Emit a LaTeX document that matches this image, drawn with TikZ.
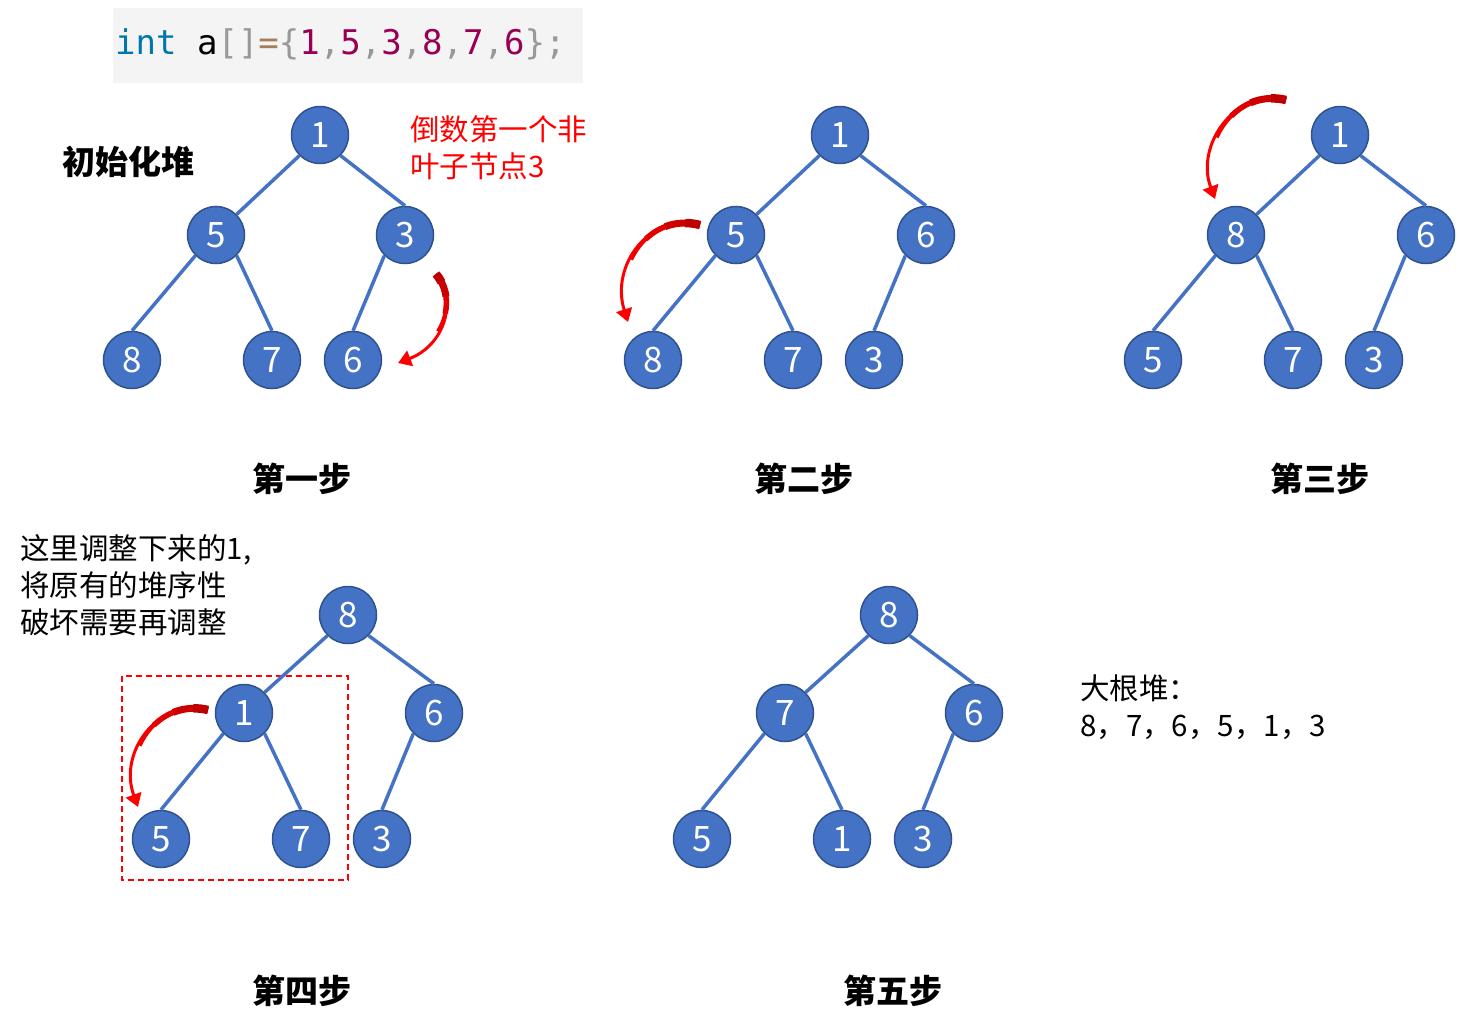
\documentclass[tikz,border=0pt]{standalone}
\usepackage{fontspec}
\setmainfont{Noto Sans CJK SC}
\newfontfamily\codefont{DejaVu Sans Mono}
\usepackage{tikz}
\usetikzlibrary{arrows.meta,positioning,calc}
\usepackage{xcolor}

\definecolor{nodeblue}{HTML}{4472C4}
\definecolor{nodeline}{HTML}{2F528F}
\definecolor{kwblue}{HTML}{0077AA}
\definecolor{numred}{HTML}{990055}
\definecolor{punct}{HTML}{999999}
\definecolor{opbrown}{HTML}{A67F59}
\definecolor{codebg}{HTML}{F4F4F4}

% red swap arrow: start, control, control, end (coordinate names)
\newcommand{\redflip}[4]{%
  \draw[flip] (#1) .. controls (#2) and (#3) .. (#4);
  \foreach \t/\w/\c in {0.6/4pt/red!95!black, 0.42/5.5pt/red!88!black, 0.25/7pt/red!80!black, 0.1/8.5pt/red!75!black}{
    \coordinate (p01) at ($(#1)!\t!(#2)$);
    \coordinate (p12) at ($(#2)!\t!(#3)$);
    \coordinate (p23) at ($(#3)!\t!(#4)$);
    \coordinate (p012) at ($(p01)!\t!(p12)$);
    \coordinate (p123) at ($(p12)!\t!(p23)$);
    \coordinate (pm) at ($(p012)!\t!(p123)$);
    \draw[line width=\w, draw=\c] (#1) .. controls (p01) and (p012) .. (pm);
  }
}

\begin{document}
\begin{tikzpicture}[
  x=1pt, y=-1pt,
  vert/.style={circle, fill=nodeblue, draw=nodeline, line width=1.5pt, minimum size=57pt, inner sep=0pt, text=white, font=\fontsize{35}{35}\selectfont},
  heapedge/.style={draw=nodeblue, line width=3.5pt},
  steplabel/.style={font=\fontsize{33}{36}\selectfont\bfseries},
  note/.style={align=left, anchor=north west, inner sep=0pt, font=\fontsize{29.5}{37}\selectfont},
  flip/.style={draw=red, line width=3pt, -{Triangle[width=16pt,length=13pt]}}
]
  \useasboundingbox (0,0) rectangle (1472,1022);

  % code line
  \fill[codebg] (113,8) rectangle (583,83);
  \node[anchor=base west, inner sep=0pt, font=\codefont\fontsize{34}{34}\selectfont] (code) at (115,55)
    {\textcolor{kwblue}{int} a\textcolor{punct}{[]}\textcolor{opbrown}{=}\textcolor{punct}{\{}\textcolor{numred}{1}\textcolor{punct}{,}\textcolor{numred}{5}\textcolor{punct}{,}\textcolor{numred}{3}\textcolor{punct}{,}\textcolor{numred}{8}\textcolor{punct}{,}\textcolor{numred}{7}\textcolor{punct}{,}\textcolor{numred}{6}\textcolor{punct}{\};}};

  % first step
  \node[vert] (a1) at (320,135) {1};
  \node[vert] (a5) at (216,235) {5};
  \node[vert] (a3) at (405,235) {3};
  \node[vert] (a8) at (132,360) {8};
  \node[vert] (a7) at (272,360) {7};
  \node[vert] (a6) at (353,360) {6};
  \draw[heapedge] (a1.south west) -- (a5.north east);
  \draw[heapedge] (a1.south east) -- (a3.north);
  \draw[heapedge] (a5.south west) -- (a8.north);
  \draw[heapedge] (a5.south east) -- (a7.north);
  \draw[heapedge] (a3.south west) -- (a6.north);
  \node[steplabel] (init) at (128,162) {初始化堆};
  \node[note, text=red] (lastleaf) at (410,115) {倒数第一个非\\叶子节点3};
  \coordinate (aflipS) at (436,274);
  \coordinate (aflipA) at (458,300);
  \coordinate (aflipB) at (445,345);
  \coordinate (aflipE) at (398,363);
  \redflip{aflipS}{aflipA}{aflipB}{aflipE}
  \node[steplabel] (stepone) at (302,479) {第一步};

  % second step
  \node[vert] (b1) at (840,135) {1};
  \node[vert] (b5) at (736,235) {5};
  \node[vert] (b6) at (926,235) {6};
  \node[vert] (b8) at (653,360) {8};
  \node[vert] (b7) at (793,360) {7};
  \node[vert] (b3) at (874,360) {3};
  \draw[heapedge] (b1.south west) -- (b5.north east);
  \draw[heapedge] (b1.south east) -- (b6.north);
  \draw[heapedge] (b5.south west) -- (b8.north);
  \draw[heapedge] (b5.south east) -- (b7.north);
  \draw[heapedge] (b6.south west) -- (b3.north);
  \coordinate (bflipS) at (700,225);
  \coordinate (bflipA) at (650,212);
  \coordinate (bflipB) at (610,265);
  \coordinate (bflipE) at (628,322);
  \redflip{bflipS}{bflipA}{bflipB}{bflipE}
  \node[steplabel] (steptwo) at (804,479) {第二步};

  % third step
  \node[vert] (c1) at (1340,135) {1};
  \node[vert] (c8) at (1236,235) {8};
  \node[vert] (c6) at (1426,235) {6};
  \node[vert] (c5) at (1153,360) {5};
  \node[vert] (c7) at (1293,360) {7};
  \node[vert] (c3) at (1374,360) {3};
  \draw[heapedge] (c1.south west) -- (c8.north east);
  \draw[heapedge] (c1.south east) -- (c6.north);
  \draw[heapedge] (c8.south west) -- (c5.north);
  \draw[heapedge] (c8.south east) -- (c7.north);
  \draw[heapedge] (c6.south west) -- (c3.north);
  \coordinate (cflipS) at (1286,100);
  \coordinate (cflipA) at (1235,88);
  \coordinate (cflipB) at (1195,145);
  \coordinate (cflipE) at (1215,199);
  \redflip{cflipS}{cflipA}{cflipB}{cflipE}
  \node[steplabel] (stepthree) at (1320,479) {第三步};

  % fourth step
  \node[note] (broken) at (20,534) {这里调整下来的1,\\将原有的堆序性\\破坏需要再调整};
  \draw[red, line width=1.5pt, dash pattern=on 6pt off 4pt] (122,676) rectangle (348,880);
  \node[vert] (d8) at (348,615) {8};
  \node[vert] (d1) at (244,713) {1};
  \node[vert] (d6) at (434,713) {6};
  \node[vert] (d5) at (161,839) {5};
  \node[vert] (d7) at (301,839) {7};
  \node[vert] (d3) at (382,839) {3};
  \draw[heapedge] (d8.south west) -- (d1.north east);
  \draw[heapedge] (d8.south east) -- (d6.north);
  \draw[heapedge] (d1.south west) -- (d5.north);
  \draw[heapedge] (d1.south east) -- (d7.north);
  \draw[heapedge] (d6.south west) -- (d3.north);
  \coordinate (dflipS) at (208,710);
  \coordinate (dflipA) at (158,698);
  \coordinate (dflipB) at (118,752);
  \coordinate (dflipE) at (138,807);
  \redflip{dflipS}{dflipA}{dflipB}{dflipE}
  \node[steplabel] (stepfour) at (302,991) {第四步};

  % fifth step
  \node[vert] (e8) at (889,615) {8};
  \node[vert] (e7) at (785,713) {7};
  \node[vert] (e6) at (974,713) {6};
  \node[vert] (e5) at (702,839) {5};
  \node[vert] (e1) at (842,839) {1};
  \node[vert] (e3) at (923,839) {3};
  \draw[heapedge] (e8.south west) -- (e7.north east);
  \draw[heapedge] (e8.south east) -- (e6.north);
  \draw[heapedge] (e7.south west) -- (e5.north);
  \draw[heapedge] (e7.south east) -- (e1.north);
  \draw[heapedge] (e6.south west) -- (e3.north);
  \node[note] (result) at (1080,675) {大根堆：\\8，7，6，5，1，3};
  \node[steplabel] (stepfive) at (893,991) {第五步};
\end{tikzpicture}
\end{document}
